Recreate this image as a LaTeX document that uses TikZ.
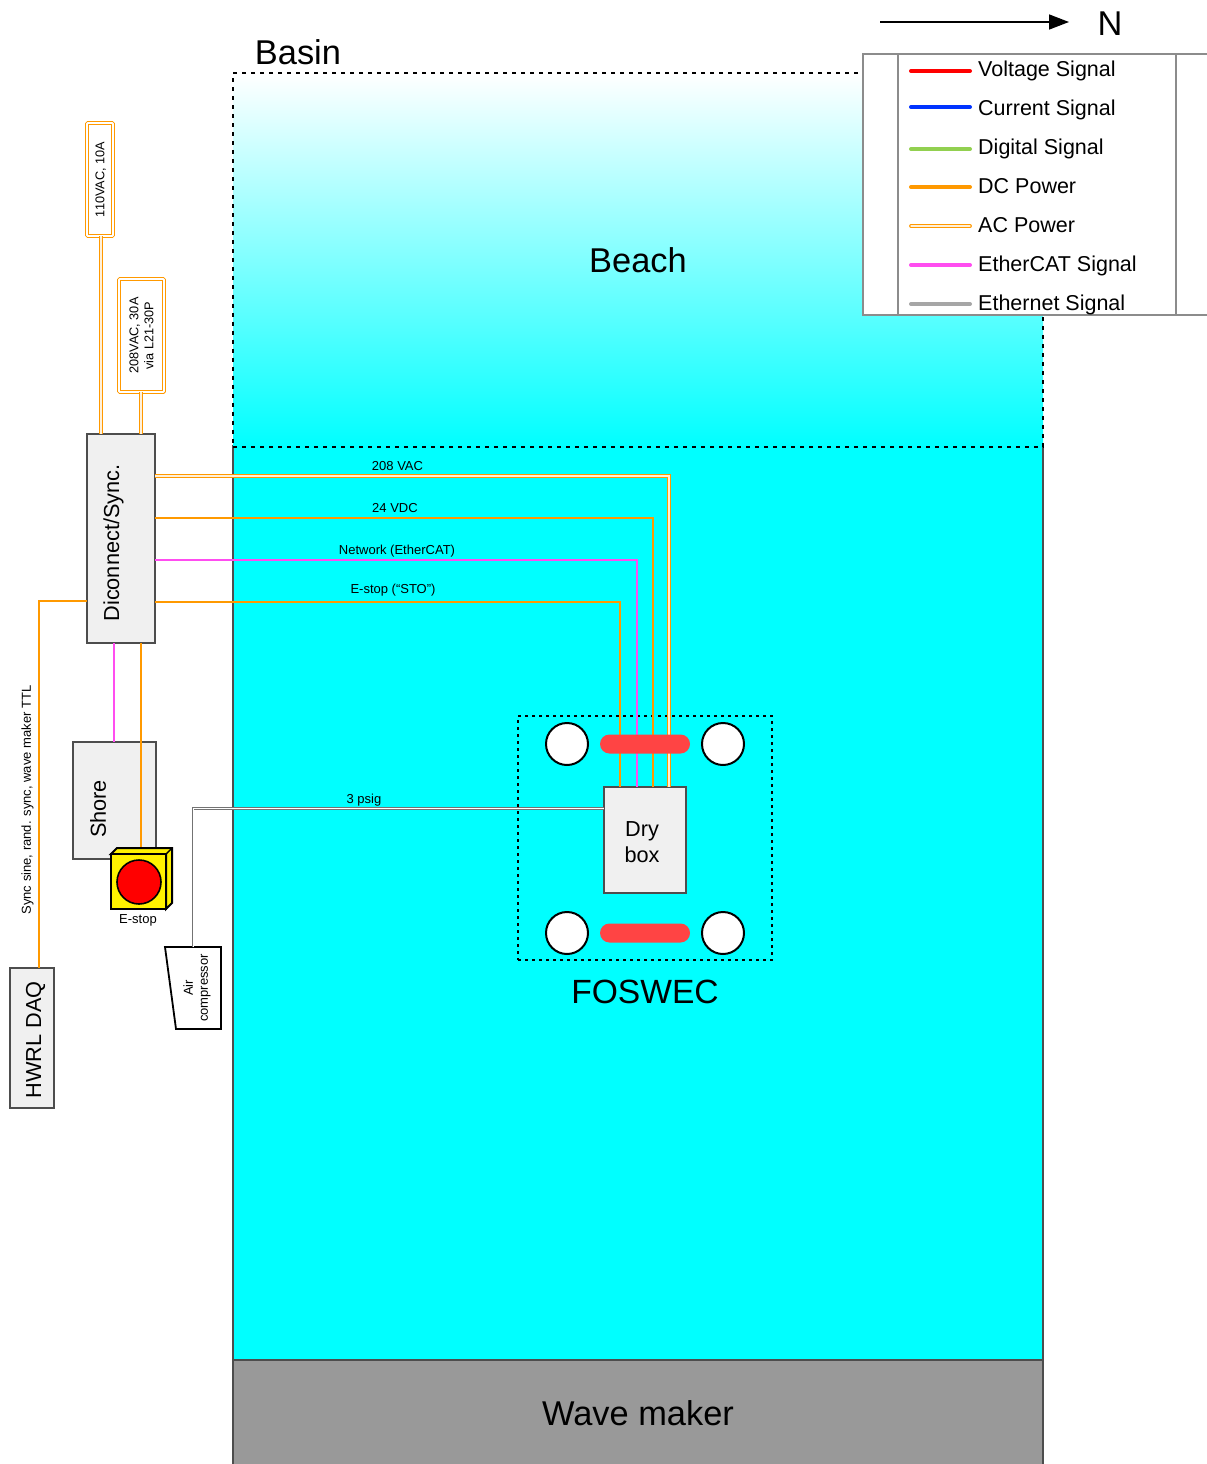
\documentclass[tikz,border=0pt]{standalone}
\usepackage{fontspec}
\setmainfont{Liberation Sans}
\usetikzlibrary{arrows.meta}
\definecolor{water}{HTML}{00FFFF}
\definecolor{wireorange}{HTML}{FF9900}
\definecolor{wiremagenta}{HTML}{FF4DF0}
\definecolor{wiregray}{HTML}{A6A6A6}
\definecolor{wireblue}{HTML}{0033FF}
\definecolor{wirered}{HTML}{FF0000}
\definecolor{wiregreen}{HTML}{92D050}
\definecolor{boxgray}{HTML}{F0F0F0}
\definecolor{edgegray}{HTML}{4D4D4D}
\definecolor{legendgray}{HTML}{8C8C8C}
\definecolor{pillred}{HTML}{FF4444}

\begin{document}
\begin{tikzpicture}[x=1pt, y=-1pt,
    big/.style={font=\fontsize{34.4}{38}\selectfont},
    mid/.style={font=\fontsize{21.7}{26}\selectfont, align=center},
    small/.style={font=\fontsize{13}{15}\selectfont, align=center, inner sep=0pt},
    box/.style={draw=edgegray, fill=boxgray, line width=2pt, inner sep=0pt, align=center},
    supply/.style={draw=wireorange, double=white, double distance=1.6pt, line width=1pt,
                   inner sep=0pt, rounded corners=0.8pt, fill=white, align=center,
                   font=\fontsize{12.7}{15}\selectfont},
    dc/.style={draw=wireorange, line width=2.2pt},
    ac/.style={draw=wireorange, double=wireorange!15, double distance=1.4pt, line width=1.2pt},
    ecat/.style={draw=wiremagenta, line width=2.2pt},
    air/.style={draw=black!55, double=white, double distance=0.9pt, line width=1pt},
    wheel/.style={circle, draw=black, fill=white, line width=2pt, minimum size=42pt, inner sep=0pt},
    pill/.style={rounded corners=9.5pt, fill=pillred, minimum width=90pt, minimum height=19pt, inner sep=0pt},
    key/.style={line width=4pt, line cap=round},
    keytext/.style={font=\fontsize{21.5}{25}\selectfont, anchor=base west, inner sep=0pt},
  ]
  \useasboundingbox (0,0) rectangle (1207,1464);

  % basin
  \node[draw=edgegray, fill=water, line width=2pt, minimum width=810pt, minimum height=914pt, inner sep=0pt]
    (basin) at (638,903) {};
  \node[big, draw=black, dash pattern=on 4pt off 5pt, line width=2pt, top color=white, bottom color=water,
        minimum width=810pt, minimum height=373pt, inner sep=0pt] (beach) at (638,260) {Beach};
  \node[big, draw=edgegray, fill=black!40, line width=2pt, minimum width=810pt, minimum height=106pt, inner sep=0pt]
    (wavemaker) at (638,1413) {Wave maker};
  \node[big, inner sep=0pt] (basinlabel) at (298,52) {Basin};

  % north arrow
  \coordinate (northa) at (880,22);
  \coordinate (northb) at (1069,22);
  \draw[-{Triangle[length=20pt,width=15pt]}, line width=1.6pt] (northa) -- (northb);
  \node[big, inner sep=0pt] (north) at (1110,24) {N};

  % legend
  \node[draw=legendgray, fill=white, line width=2pt, minimum width=360pt, minimum height=261pt, inner sep=0pt]
    (legend) at (1043,184.5) {};
  \coordinate (lega) at (898,54);
  \coordinate (legb) at (898,315);
  \coordinate (legc) at (1176,54);
  \coordinate (legd) at (1176,315);
  \draw[legendgray, line width=2pt] (lega) -- (legb);
  \draw[legendgray, line width=2pt] (legc) -- (legd);
  \foreach \ya/\yb/\name/\col in {71/76.5/Voltage Signal/wirered,
                                  107/115/Current Signal/wireblue,
                                  149/154/Digital Signal/wiregreen,
                                  187/193/DC Power/wireorange,
                                  265/271/EtherCAT Signal/wiremagenta,
                                  304/310/Ethernet Signal/wiregray} {
    \draw[key, \col] (911,\ya) -- (970,\ya);
    \node[keytext] at (978,\yb) {\name};
  }
  \draw[ac, line cap=round] (911,226) -- (970,226);
  \node[keytext] at (978,232) {AC Power};

  % shore side
  \node[box, rotate=90, minimum width=209pt, minimum height=68pt] (disc) at (121,538.5) {};
  \node[mid, rotate=90, inner sep=0pt] (disclabel) at (113.5,543) {Diconnect/Sync.};
  \node[box, rotate=90, minimum width=117pt, minimum height=83pt] (shore) at (114.5,800.5) {};
  \node[mid, rotate=90, inner sep=0pt] (shorelabel) at (98,809) {Shore};
  \node[box, rotate=90, minimum width=140pt, minimum height=44pt] (daq) at (32,1038) {};
  \node[mid, rotate=90, inner sep=0pt] (daqlabel) at (35.5,1040) {HWRL DAQ};
  \node[supply, rotate=90, text depth=0pt, minimum width=113pt, minimum height=26pt] (mainsa) at (100,179.5) {110VAC, 10A};
  \node[supply, rotate=90, minimum width=113pt, minimum height=45pt] (mainsb) at (141.5,335.5) {208VAC, 30A\\via L21-30P};

  % e-stop
  \coordinate (estoptop) at (141,848);
  \draw[dc] (141,643) -- (estoptop);
  \draw[fill=yellow, line width=2pt] (111,854) -- (117,848) -- (172,848) -- (172,903) -- (166,909) -- (166,854) -- cycle;
  \draw[line width=1.4pt] (166,854) -- (172,848);
  \node[draw=black, fill=yellow, line width=2pt, minimum size=55pt, inner sep=0pt] (estop) at (138.5,881.5) {};
  \node[circle, draw=black, fill=red, line width=1.6pt, minimum size=44pt, inner sep=0pt] (button) at (139,882) {};
  \node[small] (estoplabel) at (138,920.5) {E-stop};

  % air compressor
  \draw[fill=white, line width=1.8pt] (165,947) -- (221,947) -- (221,1029) -- (176,1029) -- cycle;
  \node[small, rotate=90] (compressor) at (197,988) {Air\\compressor};

  % foswec
  \node[draw=black, dash pattern=on 3pt off 4pt, line width=1.6pt, minimum width=254pt, minimum height=244pt, inner sep=0pt]
    (foswec) at (645,838) {};
  \node[font=\fontsize{33.6}{38}\selectfont, inner sep=0pt] (foswectext) at (645,992) {FOSWEC};
  \node[box, minimum width=82pt, minimum height=106pt] (drybox) at (645,840) {};
  \node[mid, inner sep=0pt] (drylabel) at (642,842) {Dry\\box};

  % connection points
  \coordinate (acstart) at (155,476);
  \coordinate (dcstart) at (155,518);
  \coordinate (ecstart) at (155,560);
  \coordinate (ststart) at (155,602);
  \coordinate (syncstart) at (87,601);
  \coordinate (acend) at (669,787);
  \coordinate (dcend) at (653,787);
  \coordinate (ecend) at (637,787);
  \coordinate (stend) at (620,787);
  \coordinate (daqtop) at (39,968);
  \coordinate (airstart) at (193,947);
  \coordinate (airend) at (604,808.5);

  % wires
  \draw[ac] (101,236) -- (101,434);
  \draw[ac] (141,392) -- (141,434);
  \draw[ac] (acstart) -| (acend);
  \draw[dc] (dcstart) -| (dcend);
  \draw[ecat] (ecstart) -| (ecend);
  \draw[dc] (ststart) -| (stend);
  \draw[dc] (syncstart) -| (daqtop);
  \draw[ecat] (114,643) -- (114,742);
  \draw[air] (airstart) |- (airend);

  \node[small] (lblac) at (397.5,466) {208 VAC};
  \node[small] (lbldc) at (395,508) {24 VDC};
  \node[small] (lblec) at (397,551) {Network (EtherCAT)};
  \node[small] (lblst) at (393,590) {E-stop (“STO”)};
  \node[small] (lblair) at (364,800) {3 psig};
  \node[small, rotate=90] (lblsync) at (27.5,800) {Sync sine, rand. sync, wave maker TTL};

  % wheels and floats
  \node[pill] (floata) at (645,744) {};
  \node[pill] (floatb) at (645,933) {};
  \node[wheel] (wheela) at (567,744) {};
  \node[wheel] (wheelb) at (723,744) {};
  \node[wheel] (wheelc) at (567,933) {};
  \node[wheel] (wheeld) at (723,933) {};
\end{tikzpicture}
\end{document}
